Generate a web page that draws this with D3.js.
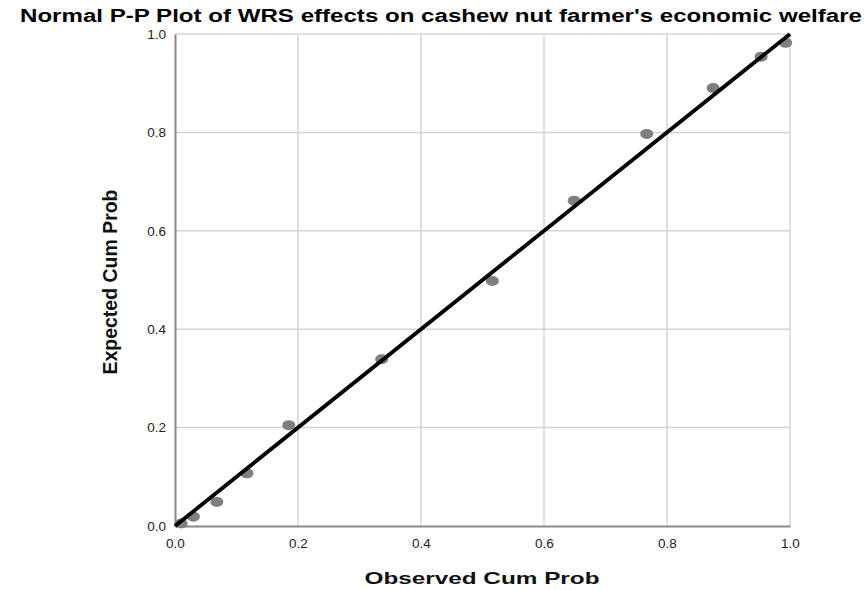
<!DOCTYPE html>
<html>
<head>
<meta charset="utf-8">
<script src="https://cdn.jsdelivr.net/npm/d3@7"></script>
<style>
  html, body { margin: 0; padding: 0; background: #fff; }
  svg { display: block; }
</style>
</head>
<body>
<svg id="chart" width="865" height="590"></svg>
<script>
const title = "Normal P-P Plot of WRS effects on cashew nut farmer's economic welfare";
const xTitle = "Observed Cum Prob";
const yTitle = "Expected Cum Prob";
const observed = [0.010, 0.030, 0.068, 0.117, 0.185, 0.336, 0.516, 0.649, 0.767, 0.875, 0.953, 0.993];
const expected = [0.005, 0.019, 0.049, 0.107, 0.205, 0.339, 0.498, 0.661, 0.797, 0.890, 0.954, 0.982];
const tickValues = [0.0, 0.2, 0.4, 0.6, 0.8, 1.0];
const gridValues = [0.2, 0.4, 0.6, 0.8, 1.0];
const refLine = [[0, 0], [1, 1]];

const svg = d3.select("#chart");
const x = d3.scaleLinear().domain([0, 1]).range([175, 790]);
const y = d3.scaleLinear().domain([0, 1]).range([526, 34]);
const font = "'Liberation Sans', Arial, sans-serif";

// gridlines
svg.append("g").selectAll("line").data(gridValues).join("line")
  .attr("x1", d => x(d)).attr("x2", d => x(d))
  .attr("y1", y(0)).attr("y2", y(1))
  .attr("stroke", "#d4d4d4").attr("stroke-width", 1.5);
svg.append("g").selectAll("line").data(gridValues).join("line")
  .attr("y1", d => y(d)).attr("y2", d => y(d))
  .attr("x1", x(0)).attr("x2", x(1))
  .attr("stroke", "#d4d4d4").attr("stroke-width", 1.5);

// axes
const xAxis = d3.axisBottom(x).tickValues(tickValues).tickFormat(d3.format(".1f")).tickSize(0).tickPadding(12);
const yAxis = d3.axisLeft(y).tickValues(tickValues).tickFormat(d3.format(".1f")).tickSize(0).tickPadding(9);
const gx = svg.append("g").attr("transform", `translate(0,${y(0)})`).call(xAxis);
const gy = svg.append("g").attr("transform", `translate(${x(0)},0)`).call(yAxis);
[gx, gy].forEach(g => {
  g.select(".domain").attr("stroke", "#8a8a8a").attr("stroke-width", 2);
  g.selectAll("text").attr("font-family", font).attr("font-size", 13.5).attr("fill", "#222");
});

// points
svg.append("g").selectAll("ellipse").data(observed).join("ellipse")
  .attr("cx", d => x(d)).attr("cy", (d, i) => y(expected[i]))
  .attr("rx", 6.5).attr("ry", 5)
  .attr("fill", "#7f7f7f");

// reference line
svg.append("path")
  .datum(refLine)
  .attr("d", d3.line().x(d => x(d[0])).y(d => y(d[1])))
  .attr("stroke", "#000").attr("stroke-width", 3.8).attr("fill", "none");

// titles
svg.append("text").attr("x", 441).attr("y", 22).attr("text-anchor", "middle")
  .attr("font-family", font).attr("font-weight", "bold").attr("font-size", 17.5)
  .attr("textLength", 842).attr("lengthAdjust", "spacingAndGlyphs")
  .attr("fill", "#000").text(title);
svg.append("text").attr("x", 482).attr("y", 584).attr("text-anchor", "middle")
  .attr("font-family", font).attr("font-weight", "bold").attr("font-size", 17)
  .attr("textLength", 235).attr("lengthAdjust", "spacingAndGlyphs")
  .attr("fill", "#111").text(xTitle);
svg.append("text").attr("transform", `translate(117,282) rotate(-90)`).attr("text-anchor", "middle")
  .attr("font-family", "'Liberation Sans Narrow', 'Liberation Sans', Arial, sans-serif")
  .attr("font-weight", "bold").attr("font-size", 20)
  .attr("textLength", 185).attr("lengthAdjust", "spacingAndGlyphs")
  .attr("fill", "#111").text(yTitle);
</script>
</body>
</html>
